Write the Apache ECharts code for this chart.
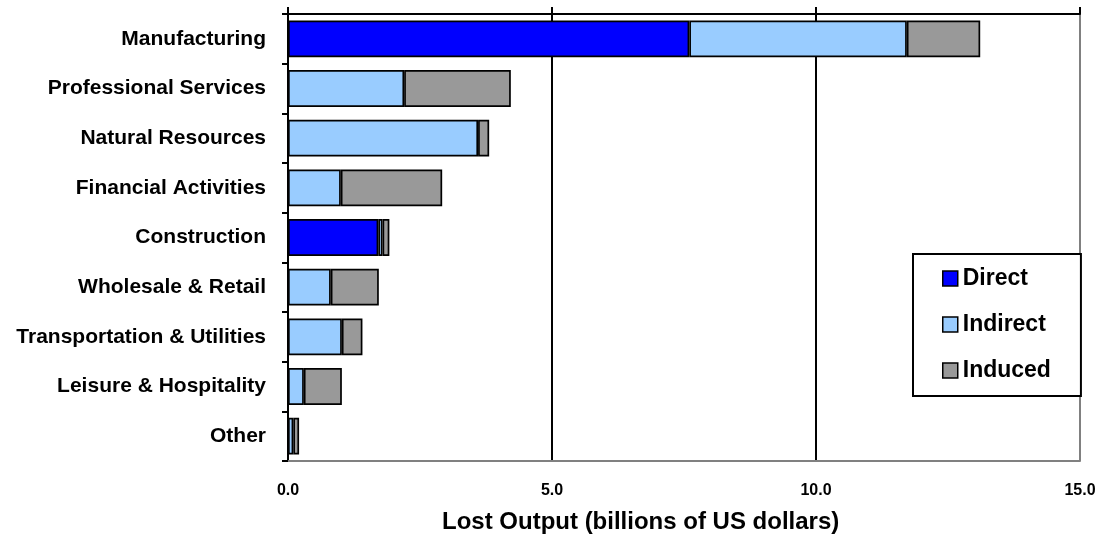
<!DOCTYPE html>
<html>
<head>
<meta charset="utf-8">
<script src="https://cdn.jsdelivr.net/npm/echarts@6/dist/echarts.min.js"></script>
<style>
  html, body { margin: 0; padding: 0; background: #fff; }
  #chart { width: 1102px; height: 537px; }
</style>
</head>
<body>
<div id="chart"></div>
<script>
// Lost output by industry, billions of US dollars
const categories = ['Manufacturing', 'Professional Services', 'Natural Resources', 'Financial Activities',
  'Construction', 'Wholesale & Retail', 'Transportation & Utilities', 'Leisure & Hospitality', 'Other'];
const direct   = [7.60, 0, 0, 0, 1.71, 0, 0, 0, 0];
const indirect = [4.12, 2.20, 3.60, 1.00, 0.08, 0.81, 1.02, 0.30, 0.10];
const induced  = [1.39, 2.02, 0.21, 1.92, 0.13, 0.91, 0.39, 0.72, 0.11];
const xTicks = [0, 5, 10, 15];
const axisTitle = 'Lost Output (billions of US dollars)';

const FONT = "'Liberation Sans', Arial, Helvetica, sans-serif";

function barSeries(name, data, color) {
  return {
    name: name,
    type: 'bar',
    stack: 'total',
    data: data,
    barWidth: '74%',
    itemStyle: { color: color, borderColor: '#000', borderWidth: 1.7 },
    emphasis: { disabled: true },
    animation: false
  };
}

const chart = echarts.init(document.getElementById('chart'), null, { renderer: 'canvas' });
chart.setOption({
  animation: false,
  textStyle: { fontFamily: FONT },
  grid: { left: 288, right: 22, top: 14, bottom: 76 },
  legend: {
    orient: 'vertical',
    left: 913,
    top: 254,
    padding: [13, 30, 14, 29],
    itemGap: 23,
    itemWidth: 15,
    itemHeight: 15,
    icon: 'rect',
    borderColor: '#000',
    borderWidth: 2,
    backgroundColor: '#fff',
    textStyle: { fontFamily: FONT, fontSize: 23, fontWeight: 'bold', color: '#000', lineHeight: 23 },
    itemStyle: { borderColor: '#000', borderWidth: 1.5 },
    data: ['Direct', 'Indirect', 'Induced']
  },
  xAxis: [
    {
      type: 'value',
      position: 'bottom',
      min: xTicks[0],
      max: xTicks[xTicks.length - 1],
      interval: 5,
      axisLine: { show: true, lineStyle: { color: '#808080', width: 2 } },
      axisTick: { show: false },
      axisLabel: {
        margin: 22,
        fontFamily: FONT,
        fontSize: 16,
        fontWeight: 'bold',
        color: '#000',
        formatter: v => v.toFixed(1)
      },
      splitLine: { show: true, lineStyle: { color: ['#000', '#000', '#000', '#808080'], width: 2 } }
    },
    {
      type: 'value',
      position: 'top',
      min: xTicks[0],
      max: xTicks[xTicks.length - 1],
      interval: 5,
      axisLine: { show: true, lineStyle: { color: '#000', width: 2 } },
      axisTick: { show: true, inside: false, length: 7, lineStyle: { color: '#000', width: 2 } },
      axisLabel: { show: false },
      splitLine: { show: false }
    }
  ],
  yAxis: {
    type: 'category',
    data: categories,
    inverse: true,
    axisLine: { show: true, lineStyle: { color: '#000', width: 2 } },
    axisTick: { show: true, inside: false, length: 6, lineStyle: { color: '#000', width: 2 } },
    axisLabel: {
      margin: 22,
      fontFamily: FONT,
      fontSize: 21,
      fontWeight: 'bold',
      color: '#000'
    },
    splitLine: { show: false }
  },
  series: [
    barSeries('Direct', direct, '#0000FF'),
    barSeries('Indirect', indirect, '#99CCFF'),
    barSeries('Induced', induced, '#999999')
  ],
  graphic: [
    {
      type: 'text',
      left: 640 - 198,
      top: 510,
      style: {
        text: axisTitle,
        fontFamily: FONT,
        fontSize: 24,
        fontWeight: 'bold',
        fill: '#000'
      }
    }
  ]
});
</script>
</body>
</html>
